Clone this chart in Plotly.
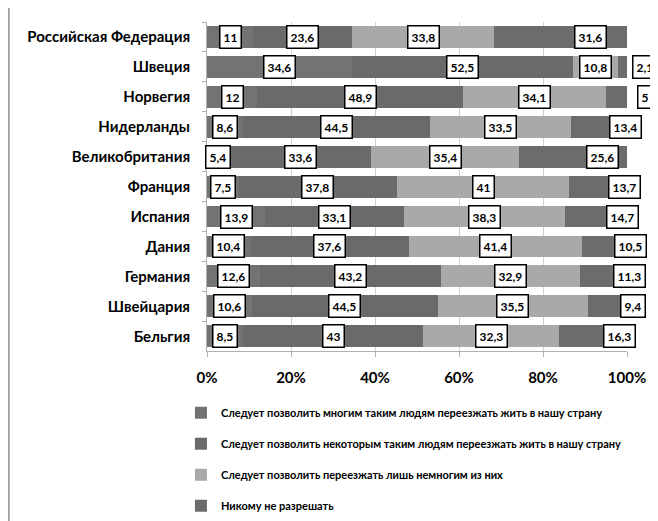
import numpy as np
from plotly import graph_objects as go

countries = [
    "Российская Федерация", "Швеция", "Норвегия", "Нидерланды",
    "Великобритания", "Франция", "Испания", "Дания", "Германия",
    "Швейцария", "Бельгия",
]
series_names = [
    "Следует позволить многим таким людям переезжать жить в нашу страну",
    "Следует позволить некоторым таким людям переезжать жить в нашу страну",
    "Следует позволить переезжать лишь немногим из них",
    "Никому не разрешать",
]
many = [11, 34.6, 12, 8.6, 5.4, 7.5, 13.9, 10.4, 12.6, 10.6, 8.5]
some = [23.6, 52.5, 48.9, 44.5, 33.6, 37.8, 33.1, 37.6, 43.2, 44.5, 43]
few = [33.8, 10.8, 34.1, 33.5, 35.4, 41, 38.3, 41.4, 32.9, 35.5, 32.3]
none_ = [31.6, 2.1, 5, 13.4, 25.6, 13.7, 14.7, 10.5, 11.3, 9.4, 16.3]
x_ticks = [0, 20, 40, 60, 80, 100]

colors = ["#737373", "#6a6a6a", "#a9a9a9", "#6c6c6c"]
FONT = "Lato, Liberation Sans, Arial, sans-serif"
PX_PER_PCT = 4.2  # plot width 420px / 100%

all_series = [many, some, few, none_]

fig = go.Figure()
for i, values in enumerate(all_series):
    fig.add_trace(
        go.Bar(
            name=f"<b>{series_names[i]}</b>",
            y=countries,
            x=values,
            orientation="h",
            marker_color=colors[i],
            marker_line_width=0,
            legendgroup=str(i),
            hoverinfo="skip",
        )
    )

# data labels: white boxes centred on segments, last series pushed to the right end
fmt = lambda v: f"{v:g}".replace(".", ",")
starts = np.zeros(len(countries))
for i, values in enumerate(all_series):
    vals = np.array(values, dtype=float)
    for j, v in enumerate(vals):
        shift = 0
        if i < 3:
            xpos = starts[j] + v / 2
        else:
            target = 104.4 if v <= 5 else 105.6 - 0.45 * v
            xpos = min(target, 100)
            shift = (target - xpos) * PX_PER_PCT
        fig.add_annotation(
            x=xpos, y=countries[j], xref="x", yref="y", xshift=shift,
            text=f"<b>{fmt(v)}</b>", showarrow=False,
            font=dict(family=FONT, size=12, color="#000000"),
            bgcolor="#ffffff", bordercolor="#000000", borderwidth=1.5,
            borderpad=3,
        )
    starts += vals

# left border of the chart area
fig.add_shape(
    type="line", xref="paper", yref="paper",
    x0=-0.472, x1=-0.472, y0=-0.55, y1=1.1,
    line=dict(color="#a0a0a0", width=2),
)

fig.update_layout(
    width=658,
    height=521,
    barmode="stack",
    bargap=0.27,
    plot_bgcolor="#ffffff",
    paper_bgcolor="#ffffff",
    margin=dict(l=199, r=39, t=14, b=176),
    font=dict(family=FONT, size=13, color="#000000"),
    showlegend=True,
    legend=dict(
        orientation="v",
        x=-0.062, xref="paper",
        y=0.251, yref="container",
        xanchor="left", yanchor="top",
        traceorder="grouped",
        tracegroupgap=12,
        itemwidth=30,
        font=dict(family=FONT, size=11, color="#000000"),
    ),
)
fig.update_xaxes(
    range=[0, 100],
    tickvals=x_ticks,
    ticktext=[f"<b>{t}%</b>" for t in x_ticks],
    showgrid=True,
    gridcolor="#d0d0d0",
    gridwidth=1,
    showline=True,
    linecolor="#b0b0b0",
    ticks="outside",
    ticklen=5,
    tickcolor="#b0b0b0",
    ticklabelstandoff=8,
    tickfont=dict(family=FONT, size=15),
    zeroline=False,
    fixedrange=True,
)
fig.update_yaxes(
    autorange="reversed",
    tickvals=countries,
    ticktext=[f"<b>{c}</b>" for c in countries],
    showline=True,
    linecolor="#b0b0b0",
    ticks="outside",
    tickson="boundaries",
    ticklen=4,
    tickcolor="#b0b0b0",
    ticklabelstandoff=13,
    tickfont=dict(family=FONT, size=15),
    fixedrange=True,
)

fig.write_html("out.html")
